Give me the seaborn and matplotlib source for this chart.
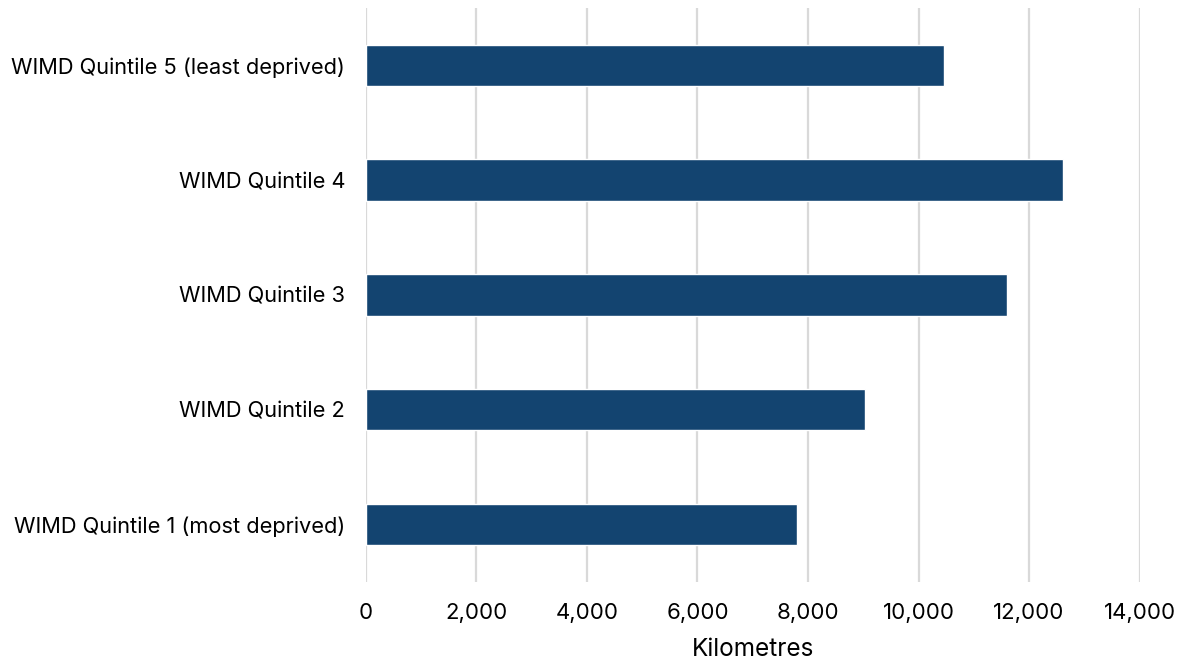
import matplotlib
matplotlib.use("Agg")
import matplotlib.pyplot as plt
import seaborn as sns
import pandas as pd
from matplotlib.ticker import FuncFormatter, MultipleLocator

categories = [
    "WIMD Quintile 5 (least deprived)",
    "WIMD Quintile 4",
    "WIMD Quintile 3",
    "WIMD Quintile 2",
    "WIMD Quintile 1 (most deprived)",
]
kilometres = [10460, 12610, 11600, 9040, 7795]

df = pd.DataFrame({"quintile": categories, "km": kilometres})

sns.set_theme(style="white")
plt.rcParams["font.family"] = ["Inter", "DejaVu Sans"]

fig = plt.figure(figsize=(11.82, 6.62), dpi=100)
ax = fig.add_axes([0.3096, 0.121, 0.6545, 0.867])

sns.barplot(data=df, x="km", y="quintile", order=categories, color="#134470",
            saturation=1, width=0.36, ax=ax)

ax.set_xlim(0, 14000)
ax.set_ylim(4.5, -0.5)
ax.xaxis.set_major_locator(MultipleLocator(2000))
ax.xaxis.set_major_formatter(FuncFormatter(lambda v, p: f"{int(v):,}"))
ax.grid(axis="x", color="#d9d9d9", linewidth=1.6)
ax.set_axisbelow(True)
for s in ax.spines.values():
    s.set_visible(False)

ax.tick_params(axis="both", length=0, colors="#000000")
ax.tick_params(axis="x", pad=15, labelsize=16)
ax.tick_params(axis="y", pad=15, labelsize=15.7)
ax.set_ylabel("")
ax.set_xlabel("Kilometres", fontsize=17.5, color="#000000", labelpad=11)

fig.savefig("out.png", dpi=100, facecolor="white")
